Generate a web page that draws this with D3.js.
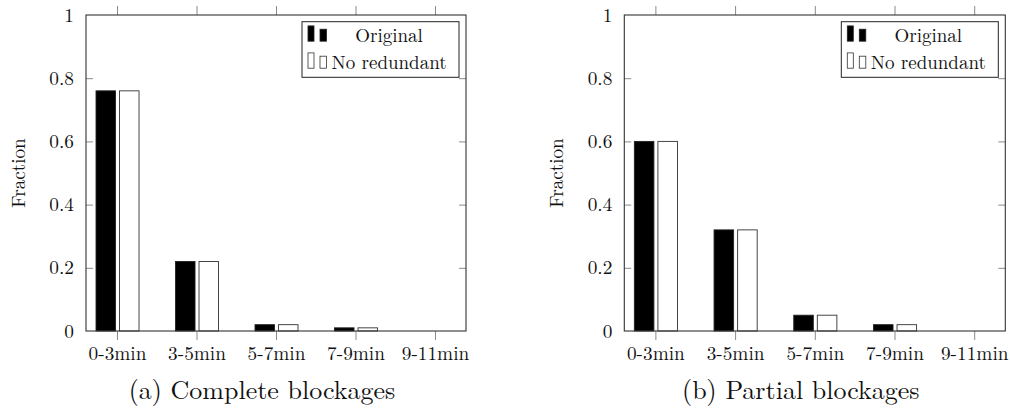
<!DOCTYPE html>
<html>
<head>
<meta charset="utf-8">
<script src="https://cdn.jsdelivr.net/npm/d3@7"></script>
<style>
  html, body { margin: 0; padding: 0; background: #fff; }
  svg { display: block; }
</style>
</head>
<body>
<svg id="chart" width="1010" height="410"></svg>
<script>
// ---- data ----
const categories = ["0-3min", "3-5min", "5-7min", "7-9min", "9-11min"];
const seriesNames = ["Original", "No redundant"];
const completeOriginal = [0.76, 0.22, 0.02, 0.01, 0.0];
const completeNoRedundant = [0.76, 0.22, 0.02, 0.01, 0.0];
const partialOriginal = [0.60, 0.32, 0.05, 0.02, 0.0];
const partialNoRedundant = [0.60, 0.32, 0.05, 0.02, 0.0];
const yTicks = [0, 0.2, 0.4, 0.6, 0.8, 1];
const yTickLabels = ["0", "0.2", "0.4", "0.6", "0.8", "1"];
const yLabel = "Fraction";
const captions = ["(a) Complete blockages", "(b) Partial blockages"];

const FONT = '"Latin Modern Roman", "CMU Serif", "Liberation Serif", serif';
const svg = d3.select("#chart");
const seriesFill = ["#000000", "#ffffff"];
const seriesStroke = ["#222222", "#333333"];

function styleText(sel, size) {
  return sel.style("font-family", FONT).style("font-size", size + "px").style("fill", "#111");
}

function drawPanel(left, right, values, caption) {
  const top = 15, bottom = 331;
  const g = svg.append("g");
  const x = d3.scalePoint().domain(categories).range([left, right]).padding(0.39);
  const y = d3.scaleLinear().domain([0, 1]).range([bottom, top]);
  const step = x.step();
  const inner = d3.scaleBand().domain(seriesNames)
    .range([-0.264 * step, 0.277 * step]).paddingInner(0.17);

  // bars
  seriesNames.forEach((s, si) => {
    g.append("g").selectAll("rect").data(values[si]).join("rect")
      .attr("x", (d, i) => x(categories[i]) + inner(s))
      .attr("width", inner.bandwidth())
      .attr("y", d => y(d))
      .attr("height", d => y(0) - y(d))
      .attr("fill", seriesFill[si])
      .attr("stroke", seriesStroke[si])
      .attr("stroke-width", 0.9);
  });

  // axes
  const tickColor = "#8a8a8a";
  const bottomAxis = d3.axisBottom(x).tickSize(9).tickPadding(6);
  const ga = g.append("g").attr("transform", `translate(0,${bottom})`).call(bottomAxis);
  ga.select(".domain").remove();
  ga.selectAll(".tick line").attr("stroke", tickColor).attr("stroke-width", 1);
  styleText(ga.selectAll(".tick text"), 19.3);

  const topAxis = d3.axisTop(x).tickSize(9).tickFormat("");
  const gt = g.append("g").attr("transform", `translate(0,${top})`).call(topAxis);
  gt.select(".domain").remove();
  gt.selectAll(".tick line").attr("stroke", tickColor);

  const leftAxis = d3.axisLeft(y).tickValues(yTicks).tickSize(-7).tickPadding(12)
    .tickFormat((d, i) => yTickLabels[i]);
  const gl = g.append("g").attr("transform", `translate(${left},0)`).call(leftAxis);
  gl.select(".domain").remove();
  gl.selectAll(".tick line").attr("stroke", tickColor);
  styleText(gl.selectAll(".tick text"), 19.3);
  gl.selectAll(".tick").filter(d => d === 0 || d === 1).select("line").remove();

  const rightAxis = d3.axisRight(y).tickValues(yTicks).tickSize(-7).tickFormat("");
  const gr = g.append("g").attr("transform", `translate(${right},0)`).call(rightAxis);
  gr.select(".domain").remove();
  gr.selectAll(".tick line").attr("stroke", tickColor);
  gr.selectAll(".tick").filter(d => d === 0 || d === 1).select("line").remove();

  // frame
  g.append("rect").attr("x", left).attr("y", top)
    .attr("width", right - left).attr("height", bottom - top)
    .attr("fill", "none").attr("stroke", "#333").attr("stroke-width", 1.1);

  // y label
  styleText(g.append("text")
    .attr("transform", `translate(${left - 61},${(top + bottom) / 2}) rotate(-90)`)
    .attr("text-anchor", "middle"), 19.1)
    .text(yLabel);

  // legend
  const lx = right - 164, ly = 21.7, lw = 157, lh = 55.6;
  const lg = g.append("g");
  lg.append("rect").attr("x", lx).attr("y", ly).attr("width", lw).attr("height", lh)
    .attr("fill", "#fff").attr("stroke", "#222").attr("stroke-width", 1);
  seriesNames.forEach((s, si) => {
    const base = ly + 19.5 + si * 27;
    lg.append("rect").attr("x", lx + 6).attr("y", base - 15.3).attr("width", 6).attr("height", 15.3)
      .attr("fill", seriesFill[si]).attr("stroke", seriesStroke[si]).attr("stroke-width", 0.8);
    lg.append("rect").attr("x", lx + 18).attr("y", base - 12).attr("width", 6.5).attr("height", 12)
      .attr("fill", seriesFill[si]).attr("stroke", seriesStroke[si]).attr("stroke-width", 0.8);
    styleText(lg.append("text").attr("x", lx + 87).attr("y", base + 1.2)
      .attr("text-anchor", "middle"), 19)
      .text(s);
  });

  // caption
  styleText(svg.append("text").attr("x", (left + right) / 2 - 14).attr("y", 399)
    .attr("text-anchor", "middle"), 26)
    .text(caption);
}

drawPanel(86, 466, [completeOriginal, completeNoRedundant], captions[0]);
drawPanel(624.3, 1005.3, [partialOriginal, partialNoRedundant], captions[1]);
</script>
</body>
</html>
